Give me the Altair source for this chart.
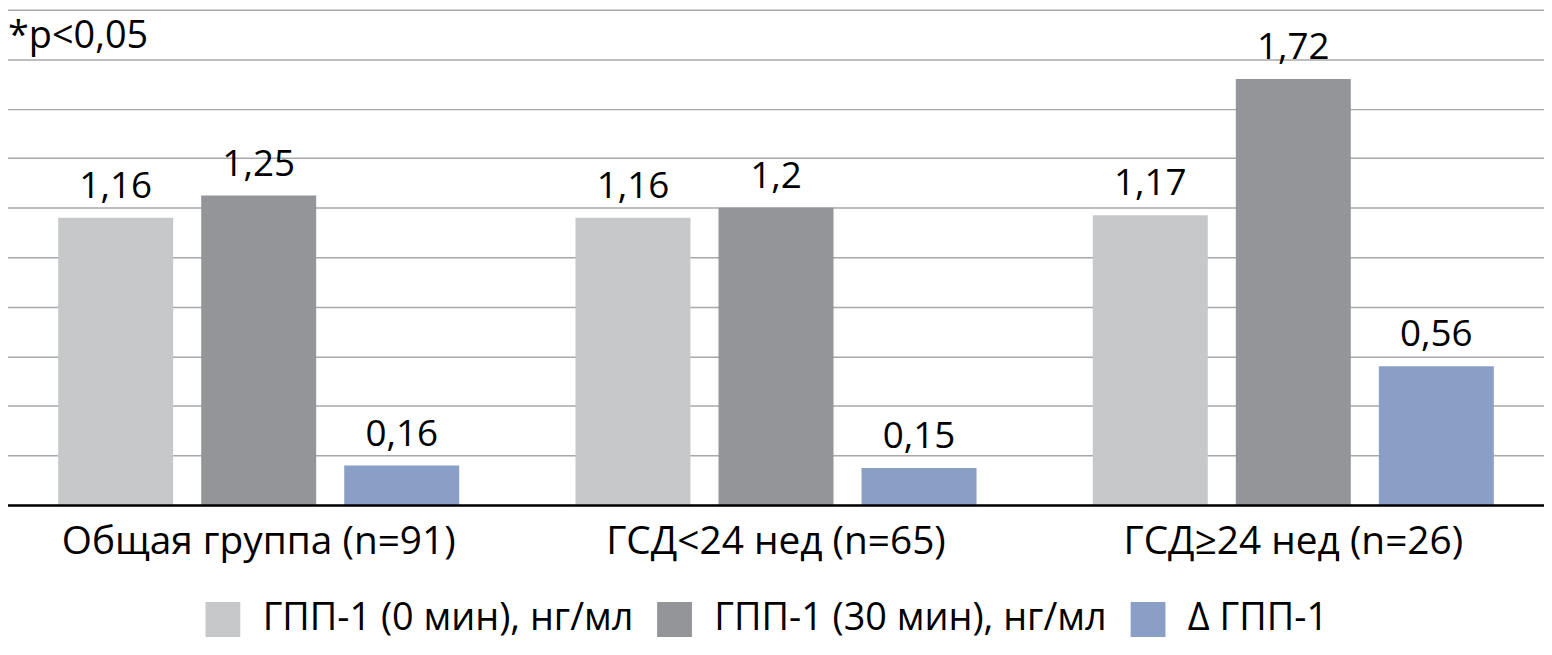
import altair as alt
import pandas as pd

groups = ["Общая группа (n=91)", "ГСД<24 нед (n=65)", "ГСД≥24 нед (n=26)"]
series = ["ГПП-1 (0 мин), нг/мл", "ГПП-1 (30 мин), нг/мл", "Δ ГПП-1"]
glp_0 = [1.16, 1.16, 1.17]
glp_30 = [1.25, 1.2, 1.72]
glp_delta = [0.16, 0.15, 0.56]
colors = ["#c7c8ca", "#939598", "#8a9fc6"]
y_ticks = [0, 0.2, 0.4, 0.6, 0.8, 1.0, 1.2, 1.4, 1.6, 1.8, 2.0]
note = "*p<0,05"

rows = []
for i, g in enumerate(groups):
    for s, vals in zip(series, [glp_0, glp_30, glp_delta]):
        rows.append({"group": g, "series": s, "value": vals[i],
                     "label": f"{vals[i]:g}".replace(".", ",")})
df = pd.DataFrame(rows)

FONT = "Open Sans"

x = alt.X("group:N", sort=groups,
          scale=alt.Scale(range=[-8, 1552], paddingInner=0, paddingOuter=0),
          axis=alt.Axis(title=None, labelAngle=0, labelFontSize=39, labelColor="#000",
                        labelFont=FONT, ticks=False, domainColor="#000", domainWidth=2.5,
                        labelPadding=18, zindex=1, labelLimit=600))
xo = alt.XOffset("series:N", sort=series,
                 scale=alt.Scale(paddingInner=0.196, paddingOuter=0.4065))
y = alt.Y("value:Q", scale=alt.Scale(domain=[0, 2], nice=False),
          axis=alt.Axis(values=y_ticks, labels=False, ticks=False, domain=False,
                        grid=True, gridColor="#a8a8a8", gridWidth=1.5, title=None))
color = alt.Color("series:N", sort=series,
                  scale=alt.Scale(domain=series, range=colors),
                  legend=alt.Legend(title=None, orient="none", legendX=197, legendY=594,
                                    direction="horizontal", symbolType="square",
                                    symbolSize=1225, symbolStrokeWidth=0, symbolOpacity=1,
                                    labelFontSize=38, labelFont=FONT, labelColor="#000",
                                    labelOffset=21, columnPadding=22, labelLimit=600))

base = alt.Chart(df)
bars = base.mark_bar().encode(x=x, xOffset=xo, y=y, color=color)
text = base.mark_text(dy=-20, baseline="alphabetic", fontSize=37, font=FONT,
                      color="#000").encode(x=x, xOffset=xo, y=y, text="label:N")
note_layer = alt.Chart(pd.DataFrame({"t": [note]})).mark_text(
    align="left", baseline="alphabetic", fontSize=38, font=FONT, color="#000"
).encode(x=alt.value(0), y=alt.value(39), text="t:N")

chart = alt.layer(bars, text, note_layer).properties(
    width=1544, height=498,
    padding={"left": 0, "top": 0, "right": 0, "bottom": 137},
    autosize=alt.AutoSizeParams(type="none"),
).configure_view(stroke=None)

chart.save("out.html", embed_options={"renderer": "svg", "actions": False})
